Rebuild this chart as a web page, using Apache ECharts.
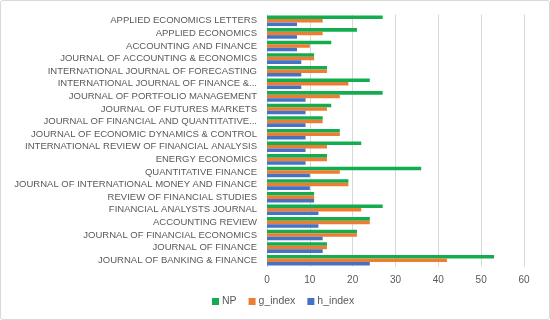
<!DOCTYPE html>
<html><head><meta charset="utf-8">
<script src="https://cdn.jsdelivr.net/npm/echarts@6/dist/echarts.min.js"></script>
<style>
html,body{margin:0;padding:0;background:#fff;}
#wrap{position:absolute;left:0;top:0;width:548px;height:318px;border:1px solid #d9d9d9;border-radius:3px;}
#c{position:absolute;left:0;top:0;width:550px;height:320px;}
</style></head><body>
<div id="wrap"></div>
<div id="c"></div>
<script>
// categories listed from bottom to top
var categories = [
  "JOURNAL OF BANKING & FINANCE",
  "JOURNAL OF FINANCE",
  "JOURNAL OF FINANCIAL ECONOMICS",
  "ACCOUNTING REVIEW",
  "FINANCIAL ANALYSTS JOURNAL",
  "REVIEW OF FINANCIAL STUDIES",
  "JOURNAL OF INTERNATIONAL MONEY AND FINANCE",
  "QUANTITATIVE FINANCE",
  "ENERGY ECONOMICS",
  "INTERNATIONAL REVIEW OF FINANCIAL ANALYSIS",
  "JOURNAL OF ECONOMIC DYNAMICS & CONTROL",
  "JOURNAL OF FINANCIAL AND QUANTITATIVE...",
  "JOURNAL OF FUTURES MARKETS",
  "JOURNAL OF PORTFOLIO MANAGEMENT",
  "INTERNATIONAL JOURNAL OF FINANCE &...",
  "INTERNATIONAL JOURNAL OF FORECASTING",
  "JOURNAL OF ACCOUNTING & ECONOMICS",
  "ACCOUNTING AND FINANCE",
  "APPLIED ECONOMICS",
  "APPLIED ECONOMICS LETTERS"
];
var NP      = [53, 14, 21, 24, 27, 11, 19, 36, 14, 22, 17, 13, 15, 27, 24, 14, 11, 15, 21, 27];
var g_index = [42, 14, 21, 24, 22, 11, 19, 17, 14, 14, 17, 13, 14, 17, 19, 14, 11, 10, 13, 13];
var h_index = [24, 13, 13, 12, 12, 11, 10, 10,  9,  9,  9,  9,  9,  9,  8,  8,  8,  7,  7,  7];
var xTicks = [0, 10, 20, 30, 40, 50, 60];

var chart = echarts.init(document.getElementById('c'), null, {renderer:'canvas'});
var lblColor = '#595959';
var font = '"Liberation Sans", Arial, sans-serif';
chart.setOption({
  animation:false,
  textStyle:{fontFamily:font},
  grid:{left:267, right:26, top:14.5, bottom:53.5, containLabel:false},
  legend:{
    data:['NP','g_index','h_index'],
    left:207, top:291, itemWidth:7, itemHeight:7, itemGap:12,
    icon:'rect',
    textStyle:{color:lblColor, fontSize:10.5, fontFamily:font, padding:[0,0,0,-2]}
  },
  xAxis:{
    type:'value', min:xTicks[0], max:xTicks[xTicks.length-1], interval:10,
    axisLine:{show:false}, axisTick:{show:false},
    axisLabel:{color:lblColor, fontSize:10, margin:9},
    splitLine:{show:true, lineStyle:{color:'#d9d9d9', width:1}}
  },
  yAxis:{
    type:'category', data:categories,
    axisLine:{show:true, lineStyle:{color:'#d9d9d9'}},
    axisTick:{show:false},
    axisLabel:{color:lblColor, fontSize:9.5, margin:10, interval:0, hideOverlap:false}
  },
  series:[
    {name:'NP', type:'bar', data:NP, itemStyle:{color:'#13AD4F'}, barGap:'0%', barCategoryGap:'16%'},
    {name:'g_index', type:'bar', data:g_index, itemStyle:{color:'#ED7D31'}, barGap:'0%', barCategoryGap:'16%'},
    {name:'h_index', type:'bar', data:h_index, itemStyle:{color:'#4472C4'}, barGap:'0%', barCategoryGap:'16%'}
  ]
});
</script>
</body></html>
